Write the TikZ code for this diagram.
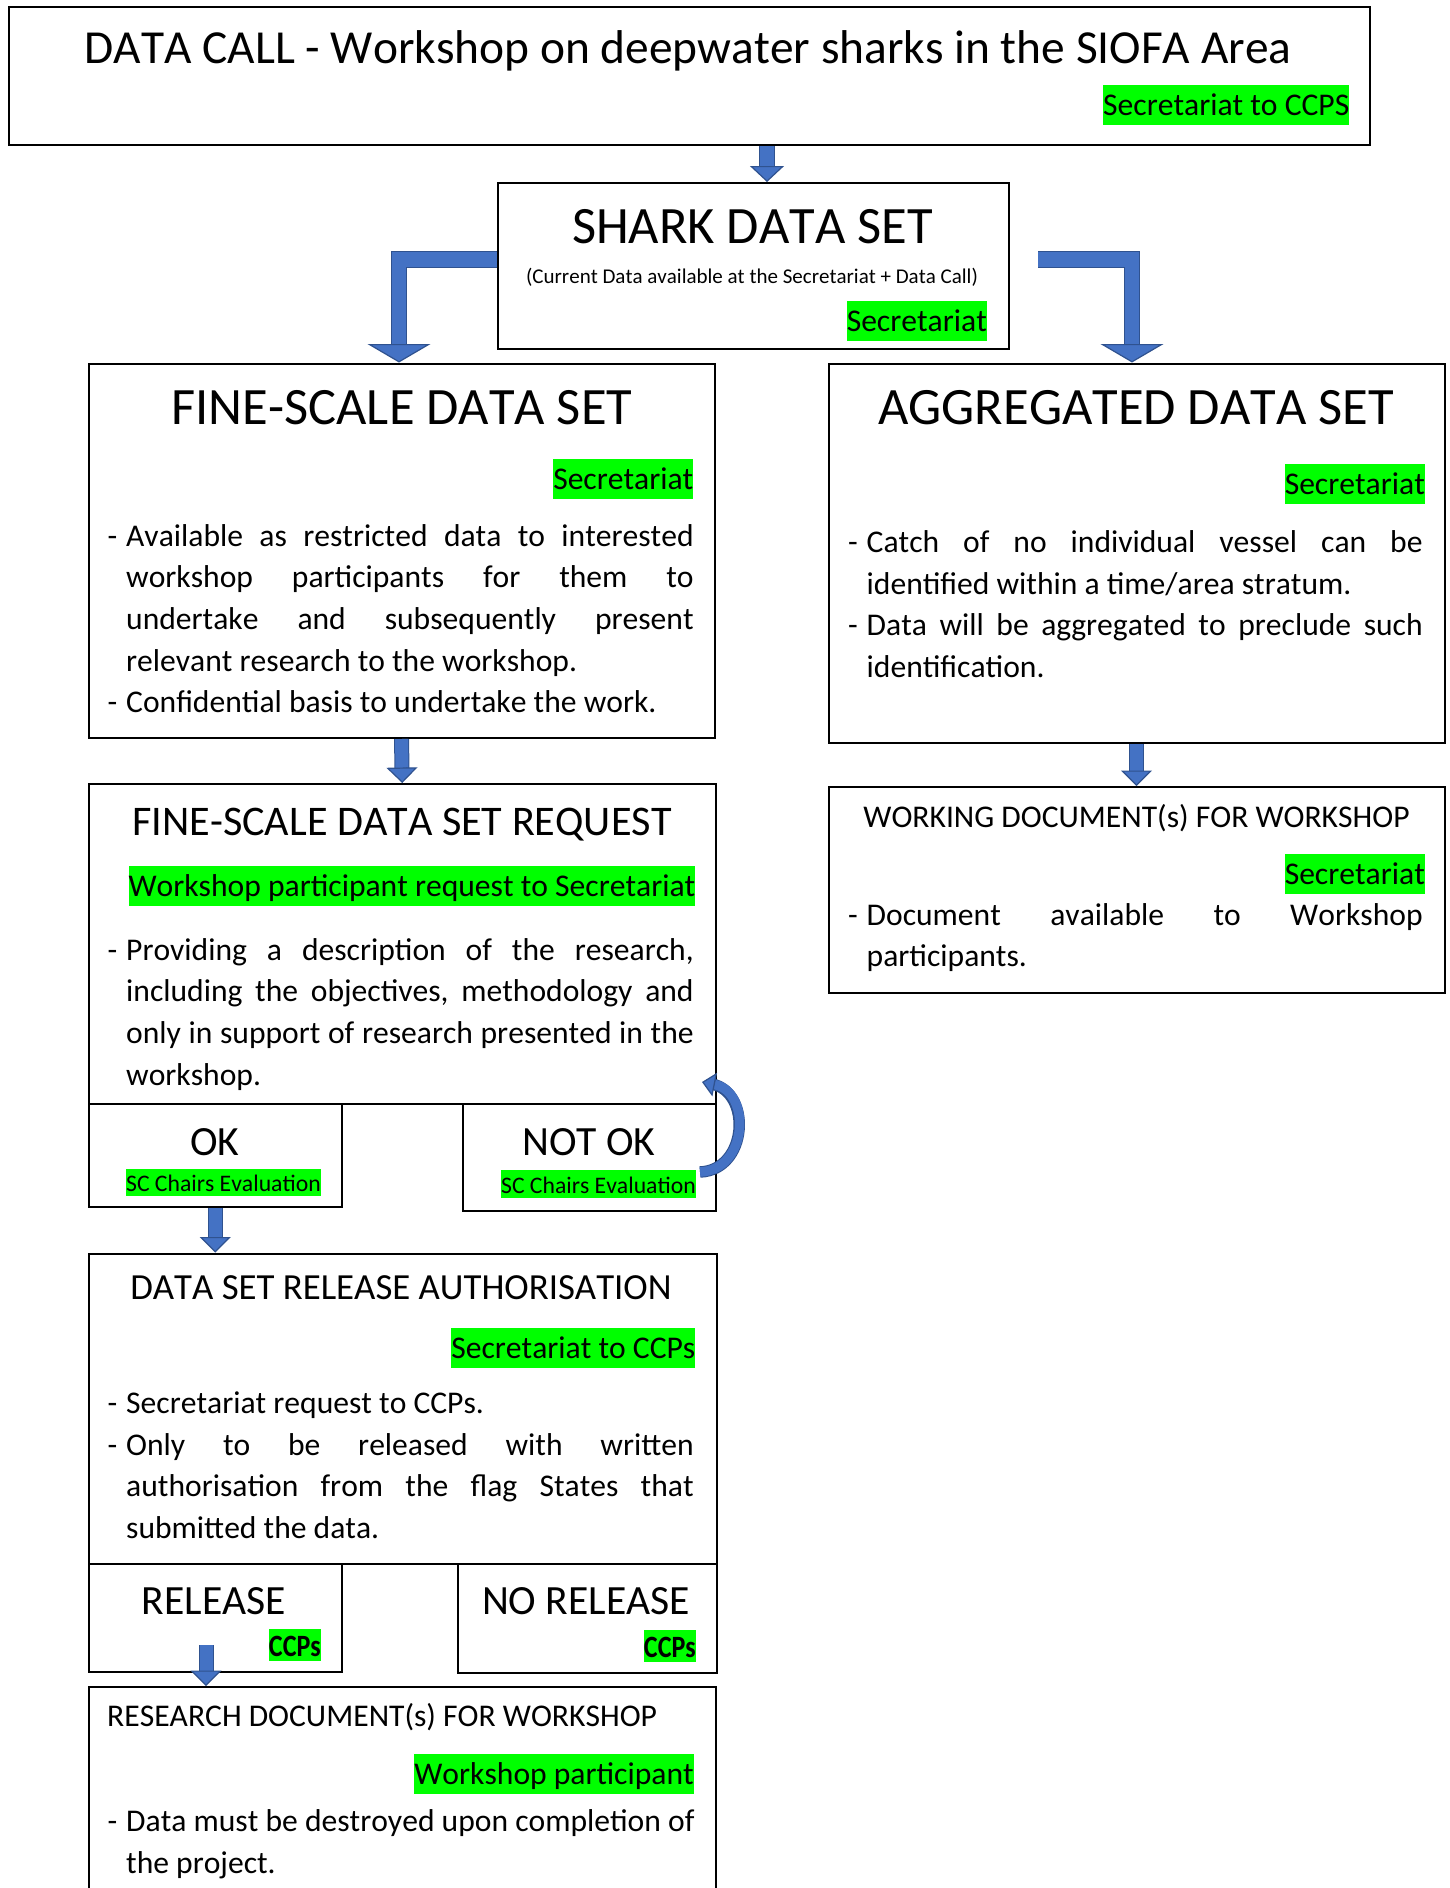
\documentclass[tikz,border=0pt]{standalone}
\usepackage{fontspec}
\usepackage{graphicx}
\setmainfont{Carlito}[Kerning=Off]
\usetikzlibrary{arrows.meta}
\frenchspacing
\definecolor{hlgreen}{HTML}{00FF00}
\definecolor{arrowblue}{HTML}{4472C4}
\definecolor{arrowedge}{HTML}{2F528F}
\newlength\dashw \setlength\dashw{18.5pt}
\newcommand\fsz[2]{\fontsize{#1}{#2}\selectfont}
\newcommand\rigidsp{\spaceskip=0.226em\xspaceskip=0.226em\relax}
\newcommand\fillsp{\spaceskip=0.226em plus 1fil\xspaceskip=0.226em plus 1fil\relax}
\newcommand\dfirst[2]{\noindent\makebox[\dashw][l]{-}\hbox to #1{\fillsp #2}\par}
\newcommand\dnext[2]{\noindent\hspace*{\dashw}\hbox to #1{\fillsp #2}\par}
\newcommand\dlast[1]{\noindent\hspace*{\dashw}\hbox{\rigidsp #1}\par}
\newcommand\donly[1]{\noindent\makebox[\dashw][l]{-}\hbox{\rigidsp #1}\par}
\begin{document}
\begin{tikzpicture}[x=1pt,y=-1pt,
  every node/.style={inner sep=0pt},
  box/.style={draw=black, line width=2pt, anchor=north west, inner sep=0pt},
  hl/.style={fill=hlgreen, inner sep=0pt, anchor=base east, text height=30pt, text depth=9.5pt, font=\fsz{31.6}{38}\rigidsp},
  hlsm/.style={fill=hlgreen, inner sep=0pt, anchor=base east, text height=22.7pt, text depth=4.5pt, font=\fsz{23.7}{28}\rigidsp},
  hlccp/.style={fill=hlgreen, inner sep=0pt, anchor=base east, text height=27.5pt, text depth=4.5pt, font=\fsz{31}{37}\bfseries},
  ttl/.style={anchor=base, font=\fsz{#1}{#1}\rigidsp},
  body/.style={anchor=base west, inner sep=0pt, text width=#1, font=\fsz{31.6}{41.7}},
  barrow/.style={preaction={draw=arrowedge, line width=15pt, shorten >=13pt, -},
    line width=13pt, draw=arrowblue,
    -{Triangle[width=31pt,length=15.5pt,fill=arrowblue,color=arrowedge,line width=1.2pt]}},
  toparrow/.style={preaction={draw=arrowedge, line width=16pt, shorten >=13pt, -},
    line width=14pt, draw=arrowblue,
    -{Triangle[width=34pt,length=16pt,fill=arrowblue,color=arrowedge,line width=1.2pt]}},
  bentarrow/.style={preaction={draw=arrowedge, line width=16.5pt, line join=miter, shorten >=16pt, -},
    line width=14.5pt, draw=arrowblue, line join=miter,
    -{Triangle[width=63pt,length=18.5pt,fill=arrowblue,color=arrowedge,line width=1.2pt]}},
  curvearrow/.style={preaction={draw=arrowedge, line width=11.5pt, shorten >=10pt, -},
    line width=9.5pt, draw=arrowblue,
    -{Triangle[width=24pt,length=13pt,fill=arrowblue,color=arrowedge,line width=1.2pt]}}
]
\useasboundingbox (0,0) rectangle (1449,1888);
\clip (0,0) rectangle (1449,1888);

% boxes
\node[box, minimum width=1361pt, minimum height=138pt] (top) at (7.5,6) {};
\node[box, minimum width=510.5pt, minimum height=166pt] (shark) at (497,182) {};
\node[box, minimum width=626pt, minimum height=374.5pt] (fine) at (87.5,362.5) {};
\node[box, minimum width=616pt, minimum height=379.5pt] (agg) at (827.5,362.5) {};
\node[box, minimum width=627.5pt, minimum height=319.5pt] (req) at (87.5,783) {};
\node[box, minimum width=253.5pt, minimum height=103.5pt] (ok) at (87.5,1102.5) {};
\node[box, minimum width=253pt, minimum height=107pt] (notok) at (462,1102.5) {};
\node[box, minimum width=628.5pt, minimum height=310.5pt] (rel) at (87.5,1252.5) {};
\node[box, minimum width=253.5pt, minimum height=108pt] (release) at (87.5,1563) {};
\node[box, minimum width=259pt, minimum height=109pt] (norelease) at (456.5,1563) {};
\node[box, minimum width=616pt, minimum height=206pt] (wd) at (827.5,786) {};
\node[box, minimum width=627pt, minimum height=300pt] (research) at (87.5,1686) {};

% texts
\node[ttl=47.4] (ttop) at (688,63) {DATA CALL - Workshop on deepwater sharks in the SIOFA Area};
\node[hl] (gtop) at (1349.5,115) {Secretariat to CCPS};

\node[ttl=52.5] (tshark) at (752.5,243) {SHARK DATA SET};
\node[ttl=21] (sshark) at (752,283) {(Current Data available at the Secretariat + Data Call)};
\node[hl] (gshark) at (987,331) {Secretariat};

\node[ttl=52.5] (tfine) at (402,424) {FINE-SCALE DATA SET};
\node[hl] (gfine) at (693.5,489) {Secretariat};
\node[body=586pt] (bfine) at (107.5,546) {%
\dfirst{567.5pt}{Available as restricted data to interested}
\dnext{567.5pt}{workshop participants for them to}
\dnext{567.5pt}{undertake and subsequently present}
\dlast{relevant research to the workshop.}
\donly{Confidential basis to undertake the work.}};

\node[ttl=52.5] (tagg) at (1136,424) {AGGREGATED DATA SET};
\node[hl] (gagg) at (1425,494) {Secretariat};
\node[body=575pt] (bagg) at (848,552.3) {%
\dfirst{556pt}{Catch of no individual vessel can be}
\dlast{identified within a time/area stratum.}
\dfirst{556pt}{Data will be aggregated to preclude such}
\dlast{identification.}};

\node[ttl=42.2] (treq) at (402,835) {FINE-SCALE DATA SET REQUEST};
\node[hl] (greq) at (695.5,896) {Workshop participant request to Secretariat};
\node[body=586pt] (breq) at (107.5,960) {%
\dfirst{567.5pt}{Providing a description of the research,}
\dnext{567.5pt}{including the objectives, methodology and}
\dnext{567.5pt}{only in support of research presented in the}
\dlast{workshop.}};

\node[ttl=41.6] (tok) at (215,1155) {OK};
\node[hlsm] (gok) at (321,1191.7) {SC Chairs Evaluation};
\node[ttl=41.6] (tnok) at (589,1155) {NOT OK};
\node[hlsm] (gnok) at (696,1193) {SC Chairs Evaluation};

\node[ttl=36.8] (trel) at (401,1299) {DATA SET RELEASE AUTHORISATION};
\node[hl] (grel) at (695.5,1358.3) {Secretariat to CCPs};
\node[body=586pt] (brel) at (107.5,1413.3) {%
\donly{Secretariat request to CCPs.}
\dfirst{567.5pt}{Only to be released with written}
\dnext{567.5pt}{authorisation from the flag States that}
\dlast{submitted the data.}};

\node[ttl=41.6] (trelease) at (214,1614) {RELEASE};
\node[hlccp] (grelease) at (321,1656.7) {\scalebox{0.84}[1]{CCPs}};
\node[ttl=41.6] (tnorel) at (586,1614) {NO RELEASE};
\node[hlccp] (gnorel) at (696,1657.5) {\scalebox{0.84}[1]{CCPs}};

\node[ttl=31.6] (twd) at (1136.5,827) {WORKING DOCUMENT(s) FOR WORKSHOP};
\node[hl] (gwd) at (1425,884.3) {Secretariat};
\node[body=575pt] (bwd) at (848,925) {%
\dfirst{556pt}{Document available to Workshop}
\dlast{participants.}};

\node[anchor=base west, font=\fsz{31.6}{38}\rigidsp] (tres) at (107,1726.7) {RESEARCH DOCUMENT(s) FOR WORKSHOP};
\node[hl] (gres) at (694,1784) {Workshop participant};
\node[body=586pt] (bres) at (107.5,1831.7) {%
\dfirst{567.5pt}{Data must be destroyed upon completion of}
\dlast{the project.}};

% arrows
\coordinate (topx) at (767,0);
\draw[toparrow] (top.south -| topx) -- (shark.north -| topx);
\coordinate (lbend) at (399,259.7);
\draw[bentarrow] (shark.west |- lbend) -| (fine.north -| lbend);
\coordinate (rstart) at (1038,259.7);
\coordinate (rbend) at (1132,0);
\draw[bentarrow] (rstart) -| (agg.north -| rbend);
\draw[barrow] (fine.south) -- (req.north);
\draw[barrow] (agg.south) -- (wd.north);
\draw[barrow] (ok.south) -- (ok.south |- rel.north);
\coordinate (rstart2) at (206,1645);
\draw[barrow] (rstart2) -- (rstart2 |- research.north);
\coordinate (ctail) at (700,1172);
\coordinate (chead) at (702,1082);
\draw[curvearrow] (ctail) .. controls (748,1170) and (752,1092) .. (chead);
\end{tikzpicture}
\end{document}
